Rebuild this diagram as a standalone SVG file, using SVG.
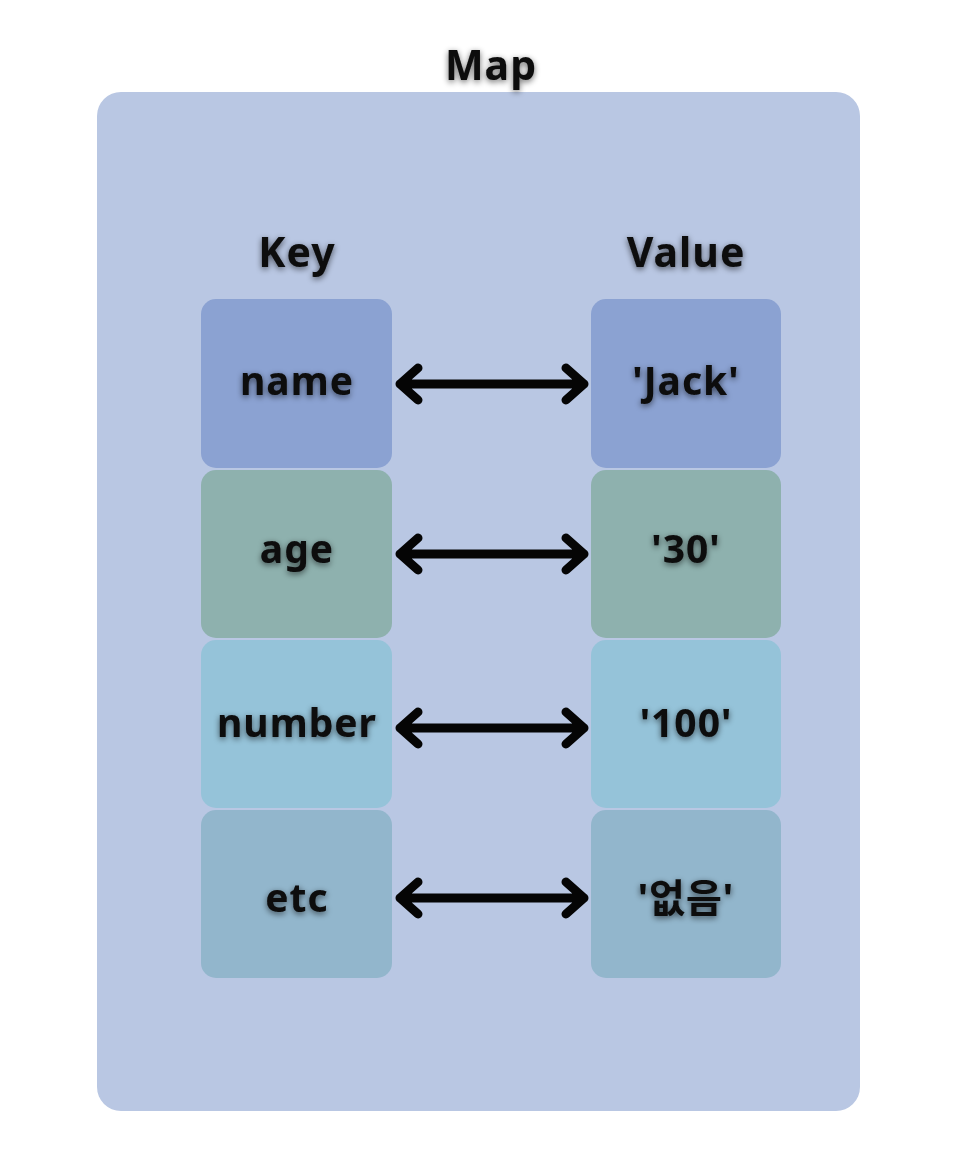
<svg xmlns="http://www.w3.org/2000/svg" width="966" height="1172" viewBox="0 0 966 1172">
<defs>
<filter id="glow" x="-20%" y="-40%" width="140%" height="180%">
<feGaussianBlur in="SourceAlpha" stdDeviation="3" result="b"/>
<feOffset in="b" dx="0" dy="2" result="o"/>
<feComponentTransfer in="o" result="s"><feFuncA type="linear" slope="0.6"/></feComponentTransfer>
<feMerge><feMergeNode in="s"/><feMergeNode in="SourceGraphic"/></feMerge>
</filter>
</defs>
<style>
text{font-family:"Noto Sans","Noto Sans CJK KR",sans-serif;font-weight:bold;fill:#0a0a0a;text-anchor:middle;filter:url(#glow)}
.lbl{font-size:39px;letter-spacing:1px}
.hdr{font-size:41px;letter-spacing:1px}
.arr{fill:none;stroke:#050505;stroke-width:9;stroke-linecap:round;stroke-linejoin:round}
</style>
<rect width="966" height="1172" fill="#ffffff"/>
<g id="map">
<rect x="97" y="92" width="763" height="1019" rx="24" fill="#b9c7e3"/>
<text class="hdr" x="491" y="80">Map</text>
</g>
<text class="hdr" x="297" y="267">Key</text>
<text class="hdr" x="686" y="267">Value</text>
<g id="k-name"><rect x="201" y="299" width="191" height="169" rx="15" fill="#8ba2d2"/><text class="lbl" x="297" y="395">name</text></g>
<g id="k-age"><rect x="201" y="470" width="191" height="168" rx="15" fill="#8eb1ae"/><text class="lbl" x="297" y="563">age</text></g>
<g id="k-number"><rect x="201" y="640" width="191" height="168" rx="15" fill="#95c3d9"/><text class="lbl" x="297" y="737">number</text></g>
<g id="k-etc"><rect x="201" y="810" width="191" height="168" rx="15" fill="#92b6cc"/><text class="lbl" x="297" y="912">etc</text></g>
<g id="v-jack"><rect x="591" y="299" width="190" height="169" rx="15" fill="#8ba2d2"/><text class="lbl" x="686" y="395">'Jack'</text></g>
<g id="v-30"><rect x="591" y="470" width="190" height="168" rx="15" fill="#8eb1ae"/><text class="lbl" x="686" y="563">'30'</text></g>
<g id="v-100"><rect x="591" y="640" width="190" height="168" rx="15" fill="#95c3d9"/><text class="lbl" x="686" y="737">'100'</text></g>
<g id="v-none"><rect x="591" y="810" width="190" height="168" rx="15" fill="#92b6cc"/><text class="lbl" x="686" y="912">'없음'</text></g>
<g id="connectors">
<path class="arr" d="M400 384H584M418 368L400 384L418 400M566 368L584 384L566 400"/>
<path class="arr" d="M400 554H584M418 538L400 554L418 570M566 538L584 554L566 570"/>
<path class="arr" d="M400 728H584M418 712L400 728L418 744M566 712L584 728L566 744"/>
<path class="arr" d="M400 898H584M418 882L400 898L418 914M566 882L584 898L566 914"/>
</g>
</svg>
